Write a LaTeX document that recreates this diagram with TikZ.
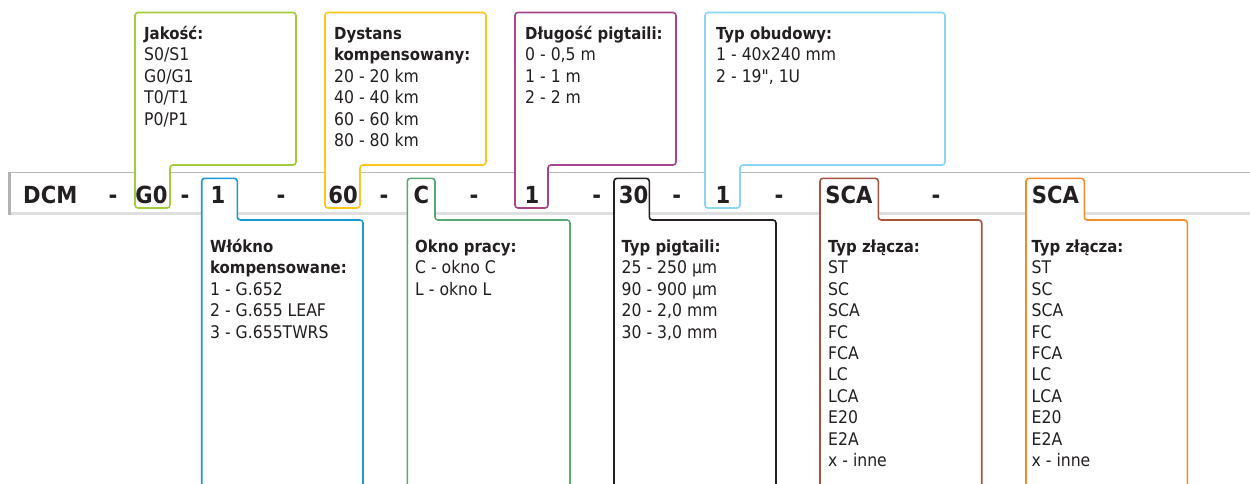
\documentclass[tikz,border=0pt]{standalone}
\usepackage{fontspec}
\setmainfont{DejaVu Sans Condensed}
\definecolor{txt}{RGB}{35,31,32}
\definecolor{cgreen}{RGB}{163,204,58}
\definecolor{cyellow}{RGB}{252,198,28}
\definecolor{cmagenta}{RGB}{168,68,140}
\definecolor{clblue}{RGB}{138,212,245}
\definecolor{cblue}{RGB}{28,152,214}
\definecolor{cgreentwo}{RGB}{88,168,118}
\definecolor{cblack}{RGB}{35,31,32}
\definecolor{cbrown}{RGB}{166,84,64}
\definecolor{corange}{RGB}{244,140,46}
\newcommand{\infolist}[1]{\begin{tabular}[t]{@{}l@{}}#1\end{tabular}}
\newcommand{\hd}[1]{{\fontsize{16.6}{21.4}\selectfont\bfseries #1}}
\newcommand{\straightquote}{\XeTeXglyph\XeTeXcharglyph"22\relax}
\begin{document}
\begin{tikzpicture}[x=1pt,y=-1pt,
  tabshape/.style={line width=1.6pt, rounded corners=3pt, fill=white},
  bartext/.style={font=\fontsize{23.5}{28}\selectfont\bfseries, text=txt, inner sep=0pt, anchor=base},
  info/.style={font=\fontsize{17.4}{21.4}\selectfont, text=txt, inner sep=0pt, anchor=base west}]
\clip (0,0) rectangle (1250,483);
\fill[white] (0,0) rectangle (1250,483);
% bar
\draw[gray!55, line width=1.2pt] (9,172.5) -- (1260,172.5);
\draw[gray!25, line width=3pt] (9,213) -- (1260,213);
\draw[gray!60, line width=2.5pt] (9.5,171.9) -- (9.5,214.5);
% top tabs
\draw[tabshape, draw=cgreen] (135,208) -- (135,12.5) -- (296,12.5) -- (296,165) -- (170,165) -- (170,208) -- cycle;
\draw[tabshape, draw=cyellow] (325,208) -- (325,12.5) -- (486,12.5) -- (486,165) -- (360,165) -- (360,208) -- cycle;
\draw[tabshape, draw=cmagenta] (515,208) -- (515,12.5) -- (676,12.5) -- (676,165) -- (548,165) -- (548,208) -- cycle;
\draw[tabshape, draw=clblue] (705,208) -- (705,12.5) -- (945,12.5) -- (945,165) -- (740,165) -- (740,208) -- cycle;
% bottom tabs
\draw[tabshape, draw=cblue] (201.7,500) -- (201.7,178.3) -- (237.3,178.3) -- (237.3,220) -- (363,220) -- (363,500) -- cycle;
\draw[tabshape, draw=cgreentwo] (407.3,500) -- (407.3,178.3) -- (435,178.3) -- (435,220) -- (570,220) -- (570,500) -- cycle;
\draw[tabshape, draw=cblack] (614,500) -- (614,178.3) -- (649.3,178.3) -- (649.3,220) -- (776,220) -- (776,500) -- cycle;
\draw[tabshape, draw=cbrown] (820,500) -- (820,178.3) -- (878.3,178.3) -- (878.3,220) -- (981.7,220) -- (981.7,500) -- cycle;
\draw[tabshape, draw=corange] (1026,500) -- (1026,178.3) -- (1084.3,178.3) -- (1084.3,220) -- (1187.3,220) -- (1187.3,500) -- cycle;
% bar text
\node[bartext, anchor=base west] (dcm) at (23,203) {DCM};
\node[bartext] (h1) at (113,203) {-};
\node[bartext] (g0) at (151.5,203) {G0};
\node[bartext] (h2) at (185,203) {-};
\node[bartext] (v1) at (218,203) {1};
\node[bartext] (h3) at (281,203) {-};
\node[bartext] (v60) at (343,203) {60};
\node[bartext] (h4) at (384,203) {-};
\node[bartext] (vc) at (421.5,203) {C};
\node[bartext] (h5) at (474,203) {-};
\node[bartext] (v1b) at (532,203) {1};
\node[bartext] (h6) at (596.7,203) {-};
\node[bartext] (v30) at (633.5,203) {30};
\node[bartext] (h7) at (676.7,203) {-};
\node[bartext] (v1c) at (723,203) {1};
\node[bartext] (h8) at (779,203) {-};
\node[bartext] (sca1) at (849,203) {SCA};
\node[bartext] (h9) at (936,203) {-};
\node[bartext] (sca2) at (1055.5,203) {SCA};
% info texts
\node[info] (jak) at (144,39.5) {\infolist{\hd{Jakość:}\\ S0/S1\\ G0/G1\\ T0/T1\\ P0/P1}};
\node[info] (dys) at (334,39.5) {\infolist{\hd{Dystans}\\ \hd{kompensowany:}\\ 20 - 20 km\\ 40 - 40 km\\ 60 - 60 km\\ 80 - 80 km}};
\node[info] (dlu) at (525,39.5) {\infolist{\hd{Długość pigtaili:}\\ 0 - 0,5 m\\ 1 - 1 m\\ 2 - 2 m}};
\node[info] (obu) at (716,39.5) {\infolist{\hd{Typ obudowy:}\\ 1 - 40x240 mm\\ 2 - 19\straightquote, 1U}};
\node[info] (wlo) at (210,252.5) {\infolist{\hd{Włókno}\\ \hd{kompensowane:}\\ 1 - G.652\\ 2 - G.655 LEAF\\ 3 - G.655TWRS}};
\node[info] (okn) at (415,252.5) {\infolist{\hd{Okno pracy:}\\ C - okno C\\ L - okno L}};
\node[info] (pig) at (621.5,252.5) {\infolist{\hd{Typ pigtaili:}\\ 25 - 250 µm\\ 90 - 900 µm\\ 20 - 2,0 mm\\ 30 - 3,0 mm}};
\node[info] (zla) at (828,252.5) {\infolist{\hd{Typ złącza:}\\ ST\\ SC\\ SCA\\ FC\\ FCA\\ LC\\ LCA\\ E20\\ E2A\\ x - inne}};
\node[info] (zlb) at (1031.5,252.5) {\infolist{\hd{Typ złącza:}\\ ST\\ SC\\ SCA\\ FC\\ FCA\\ LC\\ LCA\\ E20\\ E2A\\ x - inne}};
\end{tikzpicture}
\end{document}
